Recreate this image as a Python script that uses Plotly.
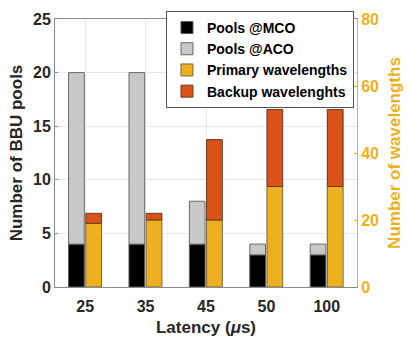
import plotly.graph_objects as go

latency = ["25", "35", "45", "50", "100"]
pools_mco = [4, 4, 4, 3, 3]
pools_aco = [16, 16, 4, 1, 1]
primary_wl = [19, 20, 20, 30, 30]
backup_wl = [3, 2, 24, 23, 23]

GOLD = "#EDB120"
ORANGE = "#D95319"
FONT = "Liberation Sans, Arial, sans-serif"

fig = go.Figure()
W = 0.26
fig.add_trace(go.Bar(x=latency, y=pools_mco, name="Pools @MCO", marker=dict(color="#000000", line=dict(color="#555555", width=1)),
                     width=W, offset=-0.275, yaxis="y"))
fig.add_trace(go.Bar(x=latency, y=pools_aco, base=pools_mco, name="Pools @ACO", marker=dict(color="#C8C8C8", line=dict(color="#6a6a6a", width=1)),
                     width=W, offset=-0.275, yaxis="y"))
fig.add_trace(go.Bar(x=latency, y=primary_wl, name="Primary wavelengths", marker=dict(color=GOLD, line=dict(color="#7a6a40", width=1)),
                     width=W, offset=0.01, yaxis="y2"))
fig.add_trace(go.Bar(x=latency, y=backup_wl, base=primary_wl, name="Backup wavelenghts", marker=dict(color=ORANGE, line=dict(color="#6a3a20", width=1)),
                     width=W, offset=0.01, yaxis="y2"))

fig.update_layout(
    width=412, height=345,
    margin=dict(l=55, r=49, t=11, b=58),
    barmode="overlay",
    plot_bgcolor="white", paper_bgcolor="white",
    font=dict(family=FONT, size=16, color="#262626"),
    showlegend=True,
    legend=dict(x=0.99, xanchor="right", y=1.03, yanchor="top", bgcolor="white",
                bordercolor="#555555", borderwidth=1,
                font=dict(family=FONT, size=14, color="#000000", weight="bold"),
                tracegroupgap=0, itemwidth=30),
    xaxis=dict(
        type="category", range=[-0.5, 4.5],
        showgrid=True, gridcolor="#e8e8e8", gridwidth=1,
        showline=True, linecolor="#8a8a8a", linewidth=1, mirror=True,
        ticks="", ticklabelstandoff=5,
        tickfont=dict(family=FONT, size=16, color="#262626", weight="bold"),
        title=dict(text="Latency (<i>μ</i>s)", font=dict(family=FONT, size=17, color="#262626", weight="bold"), standoff=6),
        zeroline=False,
    ),
    yaxis=dict(
        range=[0, 25], dtick=5, tick0=0,
        showgrid=True, gridcolor="#e8e8e8", gridwidth=1,
        showline=True, linecolor="#8a8a8a", linewidth=1,
        ticks="inside", ticklen=3, tickcolor="#8a8a8a",
        tickfont=dict(family=FONT, size=16, color="#262626", weight="bold"),
        title=dict(text="Number of BBU pools", font=dict(family=FONT, size=17, color="#262626", weight="bold"), standoff=6),
        zeroline=False,
    ),
    yaxis2=dict(
        range=[0, 80], dtick=20, tick0=0, overlaying="y", side="right",
        showgrid=False, showline=True, linecolor=GOLD, linewidth=1,
        ticks="inside", ticklen=3, tickcolor=GOLD,
        tickfont=dict(family=FONT, size=16, color=GOLD, weight="bold"),
        title=dict(text="Number of wavelengths", font=dict(family=FONT, size=17, color=GOLD, weight="bold"), standoff=10),
        zeroline=False,
    ),
)

fig.write_html("out.html")
